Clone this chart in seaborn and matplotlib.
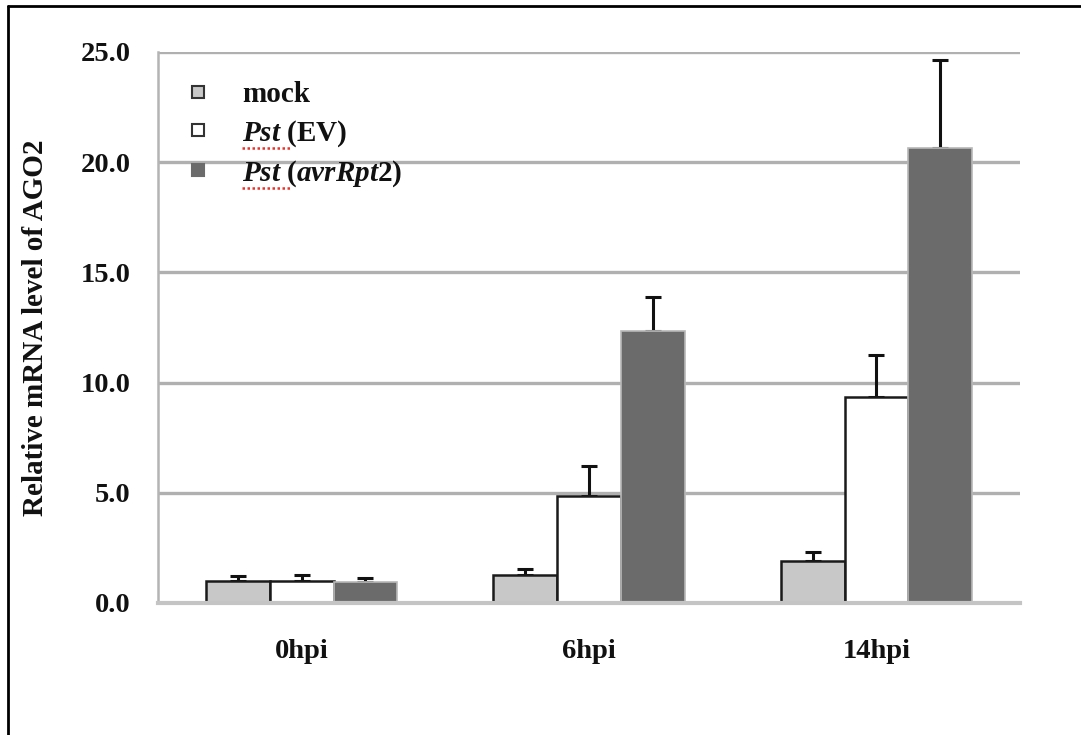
import matplotlib
matplotlib.use("Agg")
import matplotlib.pyplot as plt
from matplotlib.lines import Line2D
from matplotlib.container import BarContainer
import seaborn as sns
import pandas as pd
import numpy as np

categories = ["0hpi", "6hpi", "14hpi"]
series = ["mock", "Pst (EV)", "Pst (avrRpt2)"]
mock = [1.0, 1.27, 1.9]
ev = [1.0, 4.85, 9.35]
avr = [0.95, 12.35, 20.65]
mock_err = [0.22, 0.25, 0.4]
ev_err = [0.28, 1.35, 1.9]
avr_err = [0.18, 1.55, 4.0]
colors = ["#c8c8c8", "#ffffff", "#6b6b6b"]
yticks = [0, 5, 10, 15, 20, 25]
legend_labels = ["mock", "$Pst$ (EV)", "$Pst$ $(avrRpt2)$"]

sns.set_style("white")
plt.rcParams["font.family"] = ["Liberation Serif", "DejaVu Serif"]
plt.rcParams["font.weight"] = "bold"
plt.rcParams["mathtext.fontset"] = "custom"
plt.rcParams["mathtext.rm"] = "Liberation Serif:bold"
plt.rcParams["mathtext.it"] = "Liberation Serif:italic:bold"
plt.rcParams["mathtext.bf"] = "Liberation Serif:bold"

FS = 20.5

rows = []
for s, vals, errs in zip(series, [mock, ev, avr], [mock_err, ev_err, avr_err]):
    for c, v, e in zip(categories, vals, errs):
        rows.append({"cat": c, "series": s, "value": v, "err": e})
df = pd.DataFrame(rows)

fig = plt.figure(figsize=(10.81, 7.35), dpi=100)
ax = fig.add_axes([0.1462, 0.1796, 0.7974, 0.7497])

sns.barplot(data=df, x="cat", y="value", hue="series", order=categories,
            hue_order=series, palette=colors, width=0.665, gap=0,
            errorbar=None, ax=ax, legend=False, zorder=3)

# style bars and add upper error bars
bar_conts = [c for c in ax.containers if isinstance(c, BarContainer)]
for si, cont in enumerate(bar_conts):
    errs = [mock_err, ev_err, avr_err][si]
    for bi, patch in enumerate(cont.patches):
        if si < 2:
            patch.set_edgecolor("#1a1a1a")
            patch.set_linewidth(1.8)
        else:
            patch.set_edgecolor("#b8b8b8")
            patch.set_linewidth(1.2)
        xc = patch.get_x() + patch.get_width() / 2
        h = patch.get_height()
        ax.errorbar([xc], [h], yerr=[[0], [errs[bi]]], fmt="none",
                    ecolor="#111111", elinewidth=2.2, capsize=6, capthick=2.2,
                    zorder=2)

ax.set_xlim(-0.5, len(categories) - 0.5)
ax.set_ylim(0, 25)
ax.set_yticks(yticks)
ax.set_yticklabels([f"{t:.1f}" for t in yticks])
ax.yaxis.grid(True, color="#b0b0b0", linewidth=2.4, zorder=0)
ax.set_axisbelow(True)
for sp in ["top", "right"]:
    ax.spines[sp].set_visible(False)
ax.spines["left"].set_color("#b4b4b4")
ax.spines["left"].set_linewidth(1.8)
ax.spines["bottom"].set_color("#c4c4c4")
ax.spines["bottom"].set_linewidth(3)
ax.spines["bottom"].set_zorder(4)
ax.tick_params(axis="y", length=6, width=1.8, color="#b4b4b4", pad=14,
               labelsize=FS, labelcolor="#111111")
ax.tick_params(axis="x", length=0, pad=26, labelsize=FS, labelcolor="#111111")
for lab in ax.get_xticklabels() + ax.get_yticklabels():
    lab.set_fontweight("bold")
ax.set_xlabel("")
ax.set_ylabel("Relative mRNA level of AGO2", fontsize=FS + 0.5, fontweight="bold",
              color="#111111")
ax.yaxis.set_label_coords(-0.127, 0.5)

handles = [Line2D([0], [0], marker="s", linestyle="none", markersize=9,
                  markerfacecolor=c, markeredgecolor="#333333",
                  markeredgewidth=1.5) for c in colors]
handles[2].set_markeredgecolor("#6b6b6b")
leg = ax.legend(handles, legend_labels, loc="upper left",
                bbox_to_anchor=(0.016, 0.968), frameon=False, fontsize=FS + 0.5,
                handlelength=1.0, handletextpad=1.0, labelspacing=0.33,
                borderaxespad=0)
for t in leg.get_texts():
    t.set_color("#111111")

# spell-check style red underline under "Pst"
fig.canvas.draw()
renderer = fig.canvas.get_renderer()
for t in leg.get_texts()[1:]:
    bb = t.get_window_extent(renderer)
    x0 = bb.x0 / fig.bbox.width
    x1 = (bb.x0 + 50) / fig.bbox.width
    yy = (bb.y0 + 1) / fig.bbox.height
    fig.add_artist(Line2D([x0, x1], [yy, yy], transform=fig.transFigure,
                          color="#e8332a", linewidth=1.8, linestyle=(0, (1, 1))))

# page border lines
fig.add_artist(Line2D([8 / 1081, 8 / 1081], [0, 1 - 6 / 735],
                      transform=fig.transFigure, color="black", linewidth=2))
fig.add_artist(Line2D([8 / 1081, 1], [1 - 6 / 735, 1 - 6 / 735],
                      transform=fig.transFigure, color="black", linewidth=2))

fig.savefig("out.png", dpi=100)
